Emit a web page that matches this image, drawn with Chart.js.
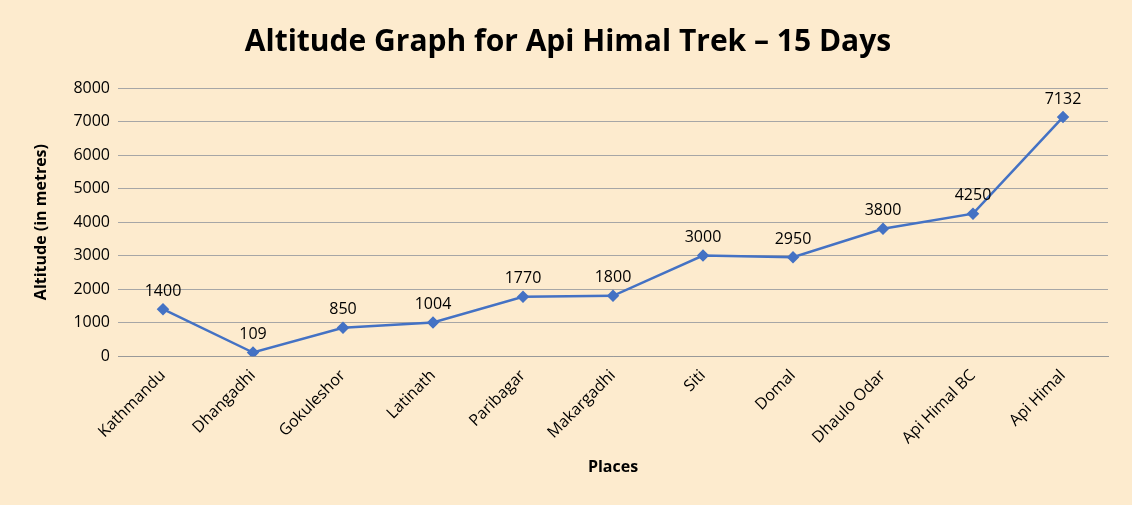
<!DOCTYPE html>
<html><head><meta charset="utf-8">
<script src="https://cdn.jsdelivr.net/npm/chart.js@4"></script>
<style>html,body{margin:0;padding:0;background:#FDEBCE;}#w{width:1132px;height:505px;}</style>
</head><body><div id="w"><canvas id="c" width="1132" height="505"></canvas></div>
<script>
const categories=["Kathmandu","Dhangadhi","Gokuleshor","Latinath","Paribagar","Makargadhi","Siti","Domal","Dhaulo Odar","Api Himal BC","Api Himal"];
const altitudes=[1400,109,850,1004,1770,1800,3000,2950,3800,4250,7132];
const yTicks={min:0,max:8000,step:1000};
const F="'Open Sans', 'Liberation Sans', sans-serif";
const labelPlugin={id:'lbl',afterDatasetsDraw(ch){const c=ch.ctx;const m=ch.getDatasetMeta(0);c.save();c.font="16px "+F;c.fillStyle="#000";c.textAlign="center";c.textBaseline="bottom";m.data.forEach((p,i)=>{c.fillText(String(altitudes[i]),p.x,p.y-10);});c.restore();}};
new Chart(document.getElementById('c'),{type:'line',
data:{labels:categories,datasets:[{data:altitudes,borderColor:'#4472C4',backgroundColor:'#4472C4',borderWidth:2.5,pointStyle:'rectRot',pointRadius:4.5,pointHoverRadius:4.5,tension:0}]},
options:{responsive:false,animation:false,
layout:{padding:{left:28,right:24,top:0,bottom:24}},
plugins:{legend:{display:false},tooltip:{enabled:false},
title:{display:true,text:'Altitude Graph for Api Himal Trek – 15 Days',color:'#000',font:{family:F,size:30,weight:'bold'},padding:{top:24,bottom:28}}},
scales:{
x:{offset:true,grid:{display:false},border:{color:'#999'},ticks:{color:'#000',font:{family:F,size:16},maxRotation:45,minRotation:45,padding:2},
title:{display:true,text:'Places',color:'#000',font:{family:F,size:16,weight:'bold'},padding:{top:8}}},
y:{min:yTicks.min,max:yTicks.max,ticks:{stepSize:yTicks.step,color:'#000',font:{family:F,size:16},padding:8,callback:v=>String(v)},grid:{color:'#A6A6A6',drawTicks:false},border:{display:false},
afterFit(s){s.width=90;},
title:{display:true,text:'Altitude (in metres)',color:'#000',font:{family:F,size:16,weight:'bold'},padding:{bottom:4}}}
}},plugins:[labelPlugin]});
</script></body></html>
